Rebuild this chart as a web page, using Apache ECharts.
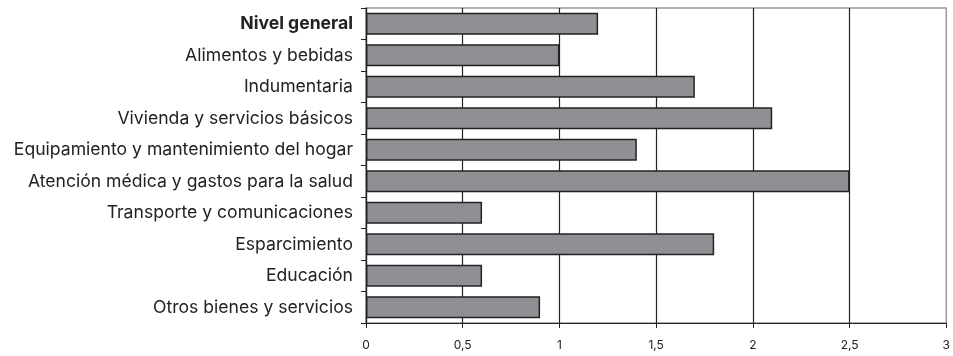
<!DOCTYPE html>
<html>
<head>
<meta charset="utf-8">
<script src="https://cdn.jsdelivr.net/npm/echarts@6/dist/echarts.min.js"></script>
<style>
html,body{margin:0;padding:0;background:#fff;}
#chart{width:953px;height:356px;}
</style>
</head>
<body>
<div id="chart"></div>
<script>
const categories = [
  'Nivel general',
  'Alimentos y bebidas',
  'Indumentaria',
  'Vivienda y servicios básicos',
  'Equipamiento y mantenimiento del hogar',
  'Atención médica y gastos para la salud',
  'Transporte y comunicaciones',
  'Esparcimiento',
  'Educación',
  'Otros bienes y servicios'
];
const values = [1.2, 1.0, 1.7, 2.1, 1.4, 2.5, 0.6, 1.8, 0.6, 0.9];
const xTickLabels = ['0', '0,5', '1', '1,5', '2', '2,5', '3'];

const FONT = 'Inter, "Liberation Sans", Arial, sans-serif';
const chart = echarts.init(document.getElementById('chart'));
chart.setOption({
  animation: false,
  backgroundColor: '#fff',
  grid: {
    left: 366, right: 5, top: 8, bottom: 33,
    show: true, borderColor: '#999', borderWidth: 1.5, backgroundColor: 'transparent'
  },
  xAxis: {
    type: 'value',
    min: 0, max: 3, interval: 0.5,
    axisLine: { show: true, lineStyle: { color: '#222', width: 1.2 } },
    axisTick: { show: true, length: 5, lineStyle: { color: '#222' } },
    axisLabel: {
      margin: 16,
      fontFamily: FONT,
      fontSize: 12,
      color: '#222',
      formatter: function (v) { return xTickLabels[Math.round(v / 0.5)]; }
    },
    splitLine: { show: true, showMaxLine: false, lineStyle: { color: '#222', width: 1.2 } }
  },
  yAxis: {
    type: 'category',
    data: categories,
    inverse: true,
    axisLine: { show: true, lineStyle: { color: '#222', width: 1.2 } },
    axisTick: { show: true, length: 5, alignWithLabel: false, lineStyle: { color: '#222' } },
    axisLabel: {
      margin: 13,
      fontFamily: FONT,
      fontSize: 17.6,
      color: '#222',
      formatter: function (v) { return v === 'Nivel general' ? '{b|' + v + '}' : v; },
      rich: { b: { fontWeight: 'bold', fontSize: 17.6, fontFamily: FONT, color: '#222' } }
    },
    splitLine: { show: false }
  },
  series: [{
    type: 'bar',
    data: values,
    barCategoryGap: '30%',
    itemStyle: { color: '#8f9094', borderColor: '#222', borderWidth: 1.5 }
  }]
});
</script>
</body>
</html>
